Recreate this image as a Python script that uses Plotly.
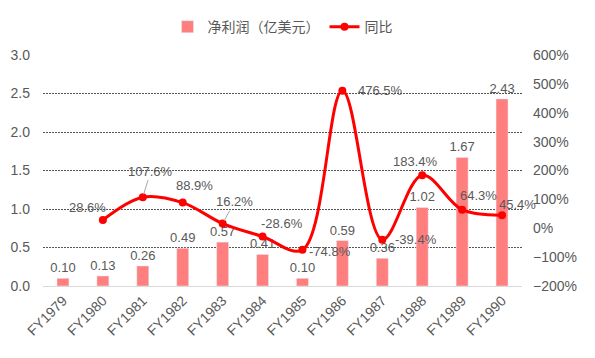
import plotly.graph_objects as go

years = ["FY1979","FY1980","FY1981","FY1982","FY1983","FY1984","FY1985","FY1986","FY1987","FY1988","FY1989","FY1990"]
profit = [0.10,0.13,0.26,0.49,0.57,0.41,0.10,0.59,0.36,1.02,1.67,2.43]
yoy = [None,28.6,107.6,88.9,16.2,-28.6,-74.8,476.5,-39.4,183.4,64.3,45.4]
# label offsets in screen pixels (dx right, dy down)
yoy_label_offsets = [None,(-15,-12),(8,-26),(12,-17),(12,-22),(19,-13),(28,2),(38,0),(34,0),(-7,-14),(16,-14),(15,-11)]
arrow_idx = [2,4]

GRAY = "#595959"
fig = go.Figure()
fig.add_trace(go.Bar(
    x=years, y=profit, name="净利润（亿美元）", marker_color="#FF7F7F",
    width=0.3, text=[f"{v:.2f}" for v in profit], textposition="outside",
    constraintext="none",
    textfont=dict(size=13, color=GRAY), cliponaxis=False,
))
fig.add_trace(go.Scatter(
    x=years, y=yoy, name="同比", yaxis="y2", mode="lines+markers",
    line=dict(color="#FF0000", width=3, shape="spline", smoothing=1.0),
    marker=dict(size=8, color="#FF0000"), connectgaps=False, cliponaxis=False,
))

annotations = []
for i, (x, v) in enumerate(zip(years, yoy)):
    if v is None:
        continue
    ox, oy = yoy_label_offsets[i]
    if i in arrow_idx:
        annotations.append(dict(x=x, y=v, xref="x", yref="y2", text=f"{v:.1f}%",
                                showarrow=True, arrowhead=0, arrowcolor="#A6A6A6", arrowwidth=1,
                                ax=ox, ay=oy, font=dict(size=13, color=GRAY), standoff=3))
    else:
        annotations.append(dict(x=x, y=v, xref="x", yref="y2", text=f"{v:.1f}%",
                                showarrow=False, xshift=ox, yshift=-oy,
                                font=dict(size=13, color=GRAY)))

fig.update_layout(
    width=595, height=358, autosize=False,
    margin=dict(l=43, r=73, t=54, b=72),
    paper_bgcolor="white", plot_bgcolor="white",
    font=dict(family="Liberation Sans, Noto Sans CJK SC, sans-serif", size=13, color=GRAY),
    legend=dict(orientation="h", x=0.5, xanchor="center", y=1.116, yanchor="middle",
                font=dict(family="Noto Sans CJK SC", size=14, color=GRAY), traceorder="normal",
                itemwidth=30),
    bargap=0.7,
    xaxis=dict(tickangle=-45, showgrid=False, showline=True, linecolor="#D9D9D9", linewidth=1,
               ticks="", automargin=False, range=[-0.5, len(years) - 0.5],
               tickfont=dict(size=14, color=GRAY)),
    yaxis=dict(range=[0, 3.0], dtick=0.5, tickformat=".1f", showgrid=True, automargin=False,
               gridcolor="#555555", gridwidth=1, griddash="2px,1px", zeroline=False,
               ticklabelstandoff=12, tickfont=dict(size=14, color=GRAY)),
    yaxis2=dict(range=[-200, 600], dtick=100, overlaying="y", side="right", showgrid=False,
                automargin=False, ticklabelstandoff=10,
                zeroline=False, ticksuffix="%", tickfont=dict(size=14, color=GRAY)),
    annotations=annotations,
)
fig.write_html("out.html", config={"displayModeBar": False},
               post_script="document.body.style.margin='0px';")
